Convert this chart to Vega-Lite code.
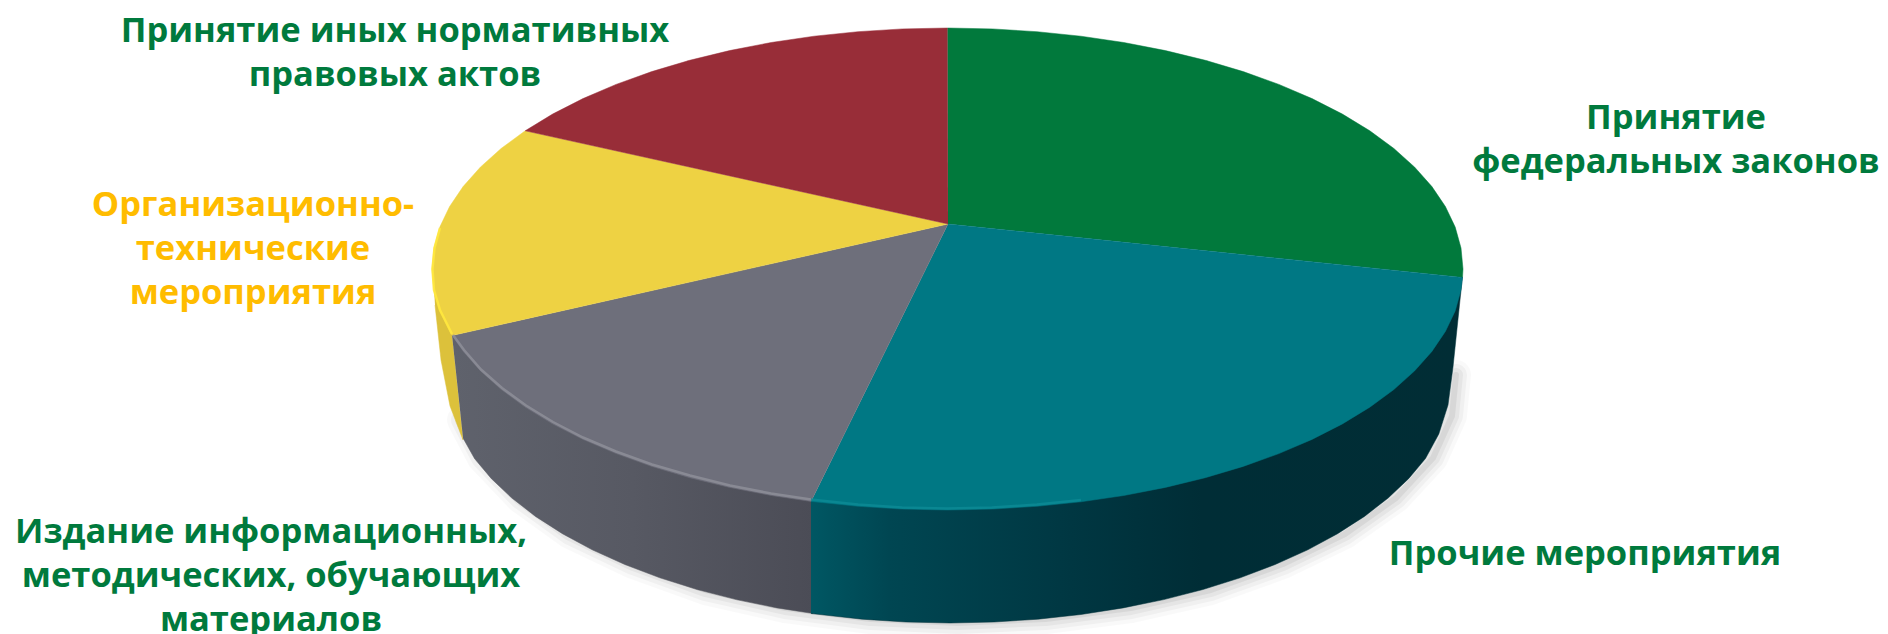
{"$schema":"https://vega.github.io/schema/vega-lite/v6.json","width":1888,"height":634,"padding":0,"autosize":{"type":"none"},"background":"#ffffff","config":{"view":{"stroke":null}},
"datasets":{
"shape":[
{"p":"shadow","i":0,"x":1456,"y":375},{"p":"shadow","i":1,"x":1452,"y":416},{"p":"shadow","i":2,"x":1433,"y":458},{"p":"shadow","i":3,"x":1396,"y":498},{"p":"shadow","i":4,"x":1345,"y":534},{"p":"shadow","i":5,"x":1283,"y":564},{"p":"shadow","i":6,"x":1211,"y":590},{"p":"shadow","i":7,"x":1131,"y":608},{"p":"shadow","i":8,"x":1046,"y":619},{"p":"shadow","i":9,"x":958,"y":623},{"p":"shadow","i":10,"x":870,"y":619},{"p":"shadow","i":11,"x":785,"y":608},{"p":"shadow","i":12,"x":705,"y":590},{"p":"shadow","i":13,"x":633,"y":564},{"p":"shadow","i":14,"x":570,"y":534},{"p":"shadow","i":15,"x":520,"y":498},{"p":"shadow","i":16,"x":482,"y":458},{"p":"shadow","i":17,"x":462,"y":420},
{"p":"yellowSide","i":0,"x":434,"y":290},{"p":"yellowSide","i":1,"x":452,"y":335},{"p":"yellowSide","i":2,"x":463,"y":440},{"p":"yellowSide","i":3,"x":450,"y":406},{"p":"yellowSide","i":4,"x":441,"y":360},{"p":"yellowSide","i":5,"x":435,"y":305},
{"p":"greySide","i":0,"x":452,"y":335},{"p":"greySide","i":1,"x":813,"y":501},{"p":"greySide","i":2,"x":813,"y":613.5},{"p":"greySide","i":3,"x":776.9,"y":607.9},{"p":"greySide","i":4,"x":736.2,"y":599.6},{"p":"greySide","i":5,"x":697,"y":589.5},{"p":"greySide","i":6,"x":659.8,"y":577.8},{"p":"greySide","i":7,"x":624.8,"y":564.5},{"p":"greySide","i":8,"x":592.2,"y":549.8},{"p":"greySide","i":9,"x":562.4,"y":533.7},{"p":"greySide","i":10,"x":535.5,"y":516.4},{"p":"greySide","i":11,"x":511.8,"y":498},{"p":"greySide","i":12,"x":491.4,"y":478.7},{"p":"greySide","i":13,"x":474.5,"y":458.5},{"p":"greySide","i":14,"x":463,"y":438},
{"p":"tealSide","i":0,"x":811,"y":501},{"p":"tealSide","i":1,"x":1462.5,"y":277},{"p":"tealSide","i":2,"x":1460,"y":300},{"p":"tealSide","i":3,"x":1453,"y":367},{"p":"tealSide","i":4,"x":1448,"y":405},{"p":"tealSide","i":5,"x":1438.8,"y":434},{"p":"tealSide","i":6,"x":1425.5,"y":458.5},{"p":"tealSide","i":7,"x":1408.6,"y":478.7},{"p":"tealSide","i":8,"x":1388.2,"y":498},{"p":"tealSide","i":9,"x":1364.5,"y":516.4},{"p":"tealSide","i":10,"x":1337.6,"y":533.7},{"p":"tealSide","i":11,"x":1307.8,"y":549.8},{"p":"tealSide","i":12,"x":1275.2,"y":564.5},{"p":"tealSide","i":13,"x":1240.2,"y":577.8},{"p":"tealSide","i":14,"x":1203,"y":589.5},{"p":"tealSide","i":15,"x":1163.8,"y":599.6},{"p":"tealSide","i":16,"x":1123.1,"y":607.9},{"p":"tealSide","i":17,"x":1081,"y":614.5},{"p":"tealSide","i":18,"x":1037.9,"y":619.2},{"p":"tealSide","i":19,"x":994.1,"y":622},{"p":"tealSide","i":20,"x":950,"y":623},{"p":"tealSide","i":21,"x":905.9,"y":622},{"p":"tealSide","i":22,"x":862.1,"y":619.2},{"p":"tealSide","i":23,"x":811,"y":613.5},
{"p":"green","i":0,"x":948,"y":224},{"p":"green","i":1,"x":947.5,"y":28},{"p":"green","i":2,"x":992.5,"y":28.9},{"p":"green","i":3,"x":1037,"y":31.7},{"p":"green","i":4,"x":1080.9,"y":36.2},{"p":"green","i":5,"x":1123.8,"y":42.5},{"p":"green","i":6,"x":1165.4,"y":50.6},{"p":"green","i":7,"x":1205.3,"y":60.3},{"p":"green","i":8,"x":1243.2,"y":71.6},{"p":"green","i":9,"x":1278.9,"y":84.4},{"p":"green","i":10,"x":1312,"y":98.6},{"p":"green","i":11,"x":1342.4,"y":114.1},{"p":"green","i":12,"x":1369.8,"y":130.8},{"p":"green","i":13,"x":1393.9,"y":148.5},{"p":"green","i":14,"x":1414.7,"y":167.2},{"p":"green","i":15,"x":1431.9,"y":186.6},{"p":"green","i":16,"x":1445.4,"y":206.6},{"p":"green","i":17,"x":1455.2,"y":227.1},{"p":"green","i":18,"x":1461,"y":248},{"p":"green","i":19,"x":1463,"y":269},{"p":"green","i":20,"x":1462.5,"y":277.4},
{"p":"teal","i":0,"x":948,"y":224},{"p":"teal","i":1,"x":1462.5,"y":277.4},{"p":"teal","i":2,"x":1461,"y":290},{"p":"teal","i":3,"x":1455.2,"y":310.9},{"p":"teal","i":4,"x":1445.4,"y":331.4},{"p":"teal","i":5,"x":1431.9,"y":351.4},{"p":"teal","i":6,"x":1414.7,"y":370.8},{"p":"teal","i":7,"x":1393.9,"y":389.5},{"p":"teal","i":8,"x":1369.8,"y":407.2},{"p":"teal","i":9,"x":1342.4,"y":423.9},{"p":"teal","i":10,"x":1312,"y":439.4},{"p":"teal","i":11,"x":1278.9,"y":453.6},{"p":"teal","i":12,"x":1243.2,"y":466.4},{"p":"teal","i":13,"x":1205.3,"y":477.7},{"p":"teal","i":14,"x":1165.4,"y":487.4},{"p":"teal","i":15,"x":1123.8,"y":495.5},{"p":"teal","i":16,"x":1080.9,"y":501.8},{"p":"teal","i":17,"x":1037,"y":506.3},{"p":"teal","i":18,"x":992.5,"y":509.1},{"p":"teal","i":19,"x":947.5,"y":510},{"p":"teal","i":20,"x":902.5,"y":509.1},{"p":"teal","i":21,"x":858,"y":506.3},{"p":"teal","i":22,"x":811,"y":501.4},
{"p":"grey","i":0,"x":948,"y":224},{"p":"grey","i":1,"x":811,"y":501.4},{"p":"grey","i":2,"x":771.2,"y":495.5},{"p":"grey","i":3,"x":729.6,"y":487.4},{"p":"grey","i":4,"x":689.7,"y":477.7},{"p":"grey","i":5,"x":651.8,"y":466.4},{"p":"grey","i":6,"x":616.1,"y":453.6},{"p":"grey","i":7,"x":583,"y":439.4},{"p":"grey","i":8,"x":552.6,"y":423.9},{"p":"grey","i":9,"x":525.2,"y":407.2},{"p":"grey","i":10,"x":501.1,"y":389.5},{"p":"grey","i":11,"x":480.3,"y":370.8},{"p":"grey","i":12,"x":463.1,"y":351.4},{"p":"grey","i":13,"x":452.1,"y":335.5},
{"p":"yellow","i":0,"x":948,"y":224},{"p":"yellow","i":1,"x":452.1,"y":335.5},{"p":"yellow","i":2,"x":439.8,"y":310.9},{"p":"yellow","i":3,"x":434,"y":290},{"p":"yellow","i":4,"x":432,"y":269},{"p":"yellow","i":5,"x":434,"y":248},{"p":"yellow","i":6,"x":439.8,"y":227.1},{"p":"yellow","i":7,"x":449.6,"y":206.6},{"p":"yellow","i":8,"x":463.1,"y":186.6},{"p":"yellow","i":9,"x":480.3,"y":167.2},{"p":"yellow","i":10,"x":501.1,"y":148.5},{"p":"yellow","i":11,"x":525.2,"y":130.8},
{"p":"red","i":0,"x":948,"y":224},{"p":"red","i":1,"x":525.2,"y":130.8},{"p":"red","i":2,"x":552.6,"y":114.1},{"p":"red","i":3,"x":583,"y":98.6},{"p":"red","i":4,"x":616.1,"y":84.4},{"p":"red","i":5,"x":651.8,"y":71.6},{"p":"red","i":6,"x":689.7,"y":60.3},{"p":"red","i":7,"x":729.6,"y":50.6},{"p":"red","i":8,"x":771.2,"y":42.5},{"p":"red","i":9,"x":814.1,"y":36.2},{"p":"red","i":10,"x":858,"y":31.7},{"p":"red","i":11,"x":902.5,"y":28.9},{"p":"red","i":12,"x":947.5,"y":28},
{"p":"greyRim","i":0,"x":453,"y":335},{"p":"greyRim","i":1,"x":464,"y":350},{"p":"greyRim","i":2,"x":481,"y":369.5},{"p":"greyRim","i":3,"x":502,"y":388},{"p":"greyRim","i":4,"x":526,"y":405.5},{"p":"greyRim","i":5,"x":553,"y":422},{"p":"greyRim","i":6,"x":583,"y":437.5},{"p":"greyRim","i":7,"x":616,"y":451.5},{"p":"greyRim","i":8,"x":652,"y":464.5},{"p":"greyRim","i":9,"x":690,"y":475.5},{"p":"greyRim","i":10,"x":730,"y":485.5},{"p":"greyRim","i":11,"x":771,"y":493.5},{"p":"greyRim","i":12,"x":811,"y":499.5},
{"p":"tealRim","i":0,"x":811,"y":499.5},{"p":"tealRim","i":1,"x":858,"y":504.5},{"p":"tealRim","i":2,"x":902,"y":507.5},{"p":"tealRim","i":3,"x":947,"y":508.5},{"p":"tealRim","i":4,"x":992,"y":507.5},{"p":"tealRim","i":5,"x":1037,"y":504.5},{"p":"tealRim","i":6,"x":1081,"y":500},
{"p":"yellowRim","i":0,"x":452,"y":334},{"p":"yellowRim","i":1,"x":440,"y":310},{"p":"yellowRim","i":2,"x":434,"y":290},{"p":"yellowRim","i":3,"x":432.5,"y":269},{"p":"yellowRim","i":4,"x":434.5,"y":248},{"p":"yellowRim","i":5,"x":440,"y":228}
],
"labels":[
{"slice":"Принятие иных нормативных правовых актов","label":"Принятие иных нормативных\nправовых актов","x":395,"y":32},
{"slice":"Принятие федеральных законов","label":"Принятие\nфедеральных законов","x":1676,"y":119},
{"slice":"Организационно-технические мероприятия","label":"Организационно-\nтехнические\nмероприятия","x":253,"y":206},
{"slice":"Издание информационных, методических, обучающих материалов","label":"Издание информационных,\nметодических, обучающих\nматериалов","x":271,"y":533},
{"slice":"Прочие мероприятия","label":"Прочие мероприятия","x":1585,"y":555}
]},
"encoding":{"x":{"field":"x","type":"quantitative","scale":{"domain":[0,1888],"nice":false,"zero":false},"axis":null},"y":{"field":"y","type":"quantitative","scale":{"domain":[634,0],"nice":false,"zero":false},"axis":null}},
"layer":[
{"data":{"name":"shape"},"transform":[{"filter":{"field":"p","equal":"shadow"}}],"mark":{"type":"line","stroke":"#000000","strokeWidth":30,"strokeOpacity":0.025,"strokeCap":"round","strokeJoin":"round","clip":false},"encoding":{"order":{"field":"i"}}},
{"data":{"name":"shape"},"transform":[{"filter":{"field":"p","equal":"shadow"}}],"mark":{"type":"line","stroke":"#000000","strokeWidth":22,"strokeOpacity":0.035,"strokeCap":"round","strokeJoin":"round"},"encoding":{"order":{"field":"i"}}},
{"data":{"name":"shape"},"transform":[{"filter":{"field":"p","equal":"shadow"}}],"mark":{"type":"line","stroke":"#000000","strokeWidth":14,"strokeOpacity":0.045,"strokeCap":"round","strokeJoin":"round"},"encoding":{"order":{"field":"i"}}},
{"data":{"name":"shape"},"transform":[{"filter":{"field":"p","equal":"shadow"}}],"mark":{"type":"line","stroke":"#000000","strokeWidth":6,"strokeOpacity":0.06,"strokeCap":"round","strokeJoin":"round"},"encoding":{"order":{"field":"i"}}},
{"data":{"name":"shape"},"transform":[{"filter":{"field":"p","equal":"yellowSide"}}],"mark":{"type":"line","fill":"#DCC13B","stroke":"#DCC13B","strokeWidth":0.5},"encoding":{"order":{"field":"i"}}},
{"data":{"name":"shape"},"transform":[{"filter":{"field":"p","equal":"greySide"}}],"mark":{"type":"line","strokeWidth":0.5,"stroke":"#55565F","fill":{"gradient":"linear","x1":0,"y1":0,"x2":1,"y2":0,"stops":[{"offset":0,"color":"#5F626C"},{"offset":0.5,"color":"#575963"},{"offset":1,"color":"#4B4C56"}]}},"encoding":{"order":{"field":"i"}}},
{"data":{"name":"shape"},"transform":[{"filter":{"field":"p","equal":"tealSide"}}],"mark":{"type":"line","strokeWidth":0.5,"stroke":"#013039","fill":{"gradient":"linear","x1":0,"y1":0,"x2":1,"y2":0,"stops":[{"offset":0,"color":"#005763"},{"offset":0.12,"color":"#004652"},{"offset":0.4,"color":"#003742"},{"offset":0.6,"color":"#002D36"},{"offset":1,"color":"#012D35"}]}},"encoding":{"order":{"field":"i"}}},
{"data":{"name":"shape"},"transform":[{"filter":{"field":"p","equal":"green"}}],"mark":{"type":"line","fill":"#01793C","stroke":"#01793C","strokeWidth":0.5},"encoding":{"order":{"field":"i"}}},
{"data":{"name":"shape"},"transform":[{"filter":{"field":"p","equal":"teal"}}],"mark":{"type":"line","fill":"#007884","stroke":"#007884","strokeWidth":0.5},"encoding":{"order":{"field":"i"}}},
{"data":{"name":"shape"},"transform":[{"filter":{"field":"p","equal":"grey"}}],"mark":{"type":"line","fill":"#6E6F7B","stroke":"#6E6F7B","strokeWidth":0.5},"encoding":{"order":{"field":"i"}}},
{"data":{"name":"shape"},"transform":[{"filter":{"field":"p","equal":"yellow"}}],"mark":{"type":"line","fill":"#EED243","stroke":"#EED243","strokeWidth":0.5},"encoding":{"order":{"field":"i"}}},
{"data":{"name":"shape"},"transform":[{"filter":{"field":"p","equal":"red"}}],"mark":{"type":"line","fill":"#982D38","stroke":"#982D38","strokeWidth":0.5},"encoding":{"order":{"field":"i"}}},
{"data":{"name":"shape"},"transform":[{"filter":{"field":"p","equal":"greyRim"}}],"mark":{"type":"line","stroke":"#90919B","strokeWidth":2.5,"strokeOpacity":0.8},"encoding":{"order":{"field":"i"}}},
{"data":{"name":"shape"},"transform":[{"filter":{"field":"p","equal":"tealRim"}}],"mark":{"type":"line","stroke":"#0E8D99","strokeWidth":2.5,"strokeOpacity":0.7},"encoding":{"order":{"field":"i"}}},
{"data":{"name":"shape"},"transform":[{"filter":{"field":"p","equal":"yellowRim"}}],"mark":{"type":"line","stroke":"#FFE83E","strokeWidth":2.5,"strokeOpacity":0.9},"encoding":{"order":{"field":"i"}}},
{"data":{"name":"labels"},"mark":{"type":"text","font":"Open Sans","fontWeight":"bold","fontSize":34.5,"align":"center","baseline":"middle","lineBreak":"\n","lineHeight":44},"encoding":{"text":{"field":"label","type":"nominal"},"color":{"field":"slice","type":"nominal","legend":null,"scale":{"domain":["Принятие иных нормативных правовых актов","Принятие федеральных законов","Организационно-технические мероприятия","Издание информационных, методических, обучающих материалов","Прочие мероприятия"],"range":["#007A3D","#007A3D","#FFBC00","#007A3D","#007A3D"]}}}}
]}
